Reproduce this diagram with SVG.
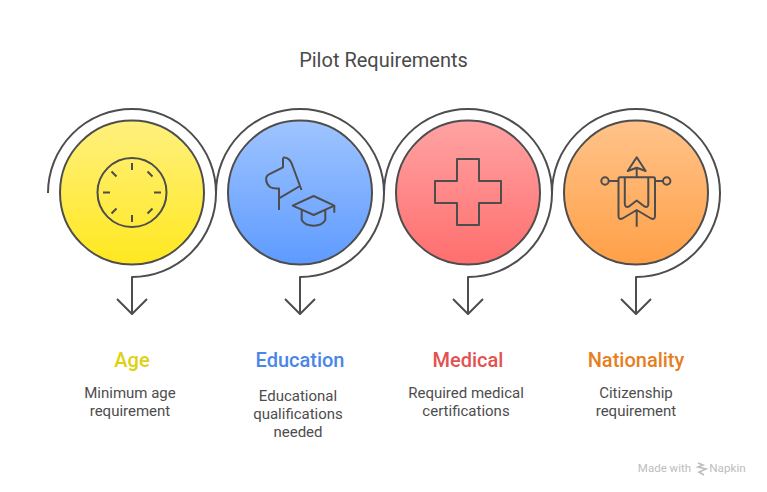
<svg xmlns="http://www.w3.org/2000/svg" width="767" height="492" viewBox="0 0 767 492">
<style>
.l{fill:none;stroke:#4d4d4d;stroke-width:2;stroke-linecap:butt;stroke-linejoin:round}
.c{stroke:#4d4d4d;stroke-width:2}
text{font-family:Roboto,"Liberation Sans",sans-serif;text-anchor:middle}
.t{font-size:20px;fill:#4a4a4a}
.h{font-size:20px;font-weight:500}
.d{font-size:15px;fill:#4d4d4d}
</style>
<defs>
<linearGradient id="gy" x1="0" y1="0" x2="0" y2="1"><stop offset="0" stop-color="#fff07f"/><stop offset="1" stop-color="#ffe81f"/></linearGradient>
<linearGradient id="gb" x1="0" y1="0" x2="0" y2="1"><stop offset="0" stop-color="#9fc4ff"/><stop offset="1" stop-color="#5e9bff"/></linearGradient>
<linearGradient id="gr" x1="0" y1="0" x2="0" y2="1"><stop offset="0" stop-color="#ffa3a3"/><stop offset="1" stop-color="#ff6e6e"/></linearGradient>
<linearGradient id="go" x1="0" y1="0" x2="0" y2="1"><stop offset="0" stop-color="#ffc38a"/><stop offset="1" stop-color="#ffa047"/></linearGradient>
</defs>
<rect width="767" height="492" fill="#fff"/>
<text id="title" class="t" x="383.5" y="67">Pilot Requirements</text>
<g id="connectors">
<path class="l" d="M48 193A84 84 0 1 1 132 277V314M117 299L132 314L147 299"/>
<path class="l" d="M216 193A84 84 0 1 1 300 277V314M285 299L300 314L315 299"/>
<path class="l" d="M384 193A84 84 0 1 1 468 277V314M453 299L468 314L483 299"/>
<path class="l" d="M552 193A84 84 0 1 1 636 277V314M621 299L636 314L651 299"/>
</g>
<g id="age">
<circle class="c" cx="132" cy="192.500" r="72" fill="url(#gy)"/>
<circle class="l" cx="132" cy="192.500" r="34.500"/>
<path class="l" d="M132 163V170M132 215V222M103 192.500H110M154 192.500H161M111.500 171.500L116.500 176.500M147.500 171.500L152.500 176.500M111.500 213.500L116.500 208.500M147.500 213.500L152.500 208.500"/>
<text class="h" x="132" y="367" fill="#e0d012">Age</text>
<text class="d" x="130" y="398">Minimum age</text>
<text class="d" x="130" y="416">requirement</text>
</g>
<g id="education">
<circle class="c" cx="300" cy="192.500" r="72" fill="url(#gb)"/>
<path class="l" d="M283 157.700C288 157 291 160 293 167L300 186L301.500 190M283 157.700V167.300L269 174.300C265 176 265 183 270 187C273 189 276 188.500 279 188.500V210M279 198.300L300 186"/>
<path class="l" d="M292.700 205.700L313.700 196L334.300 205.700L313.700 215ZM334.300 205.700V212.700M301.700 210.500V220C304 224 309 225.700 313.700 225.700C318 225.700 323 224 325.300 220V210.500"/>
<text class="h" x="300" y="367" fill="#4a86e8">Education</text>
<text class="d" x="298" y="401">Educational</text>
<text class="d" x="298" y="419">qualifications</text>
<text class="d" x="298" y="437">needed</text>
</g>
<g id="medical">
<circle class="c" cx="468" cy="192.500" r="72" fill="url(#gr)"/>
<path class="l" d="M457 159H479V181H501V203H479V225H457V203H435V181H457Z"/>
<text class="h" x="468" y="367" fill="#e35252">Medical</text>
<text class="d" x="466" y="398">Required medical</text>
<text class="d" x="466" y="416">certifications</text>
</g>
<g id="nationality">
<circle class="c" cx="636" cy="192.500" r="72" fill="url(#go)"/>
<path class="l" d="M636.700 157.300L627.700 171L636.700 167.700L645.700 171ZM636.700 167.700V177.300"/>
<path class="l" d="M620 177.300H653.500Q655 177.300 655 179V216Q655 220 651 218.500L636.700 210L622.500 218.500Q618.500 220 618.500 216V179Q618.500 177.300 620 177.300ZM624.800 177.300V204Q625 208 629 206.500L636.700 200.500L644.500 206.500Q648.300 208 648.300 204V177.300M636.700 210V226.700M608.700 181H618.500M655 181H663"/>
<circle class="l" cx="605" cy="181" r="3.700"/>
<circle class="l" cx="666.700" cy="181" r="3.700"/>
<text class="h" x="636" y="367" fill="#e67e22">Nationality</text>
<text class="d" x="636" y="398">Citizenship</text>
<text class="d" x="636" y="416">requirement</text>
</g>
<g id="footer">
<text x="664.500" y="472" font-size="11.500" fill="#bdbdbd">Made with</text>
<path d="M698 463L703 465L698 467L706 469L699 472L704 475" fill="none" stroke="#bdbdbd" stroke-width="1.600"/>
<text x="727.500" y="472" font-size="11.700" fill="#bdbdbd">Napkin</text>
</g>
</svg>
